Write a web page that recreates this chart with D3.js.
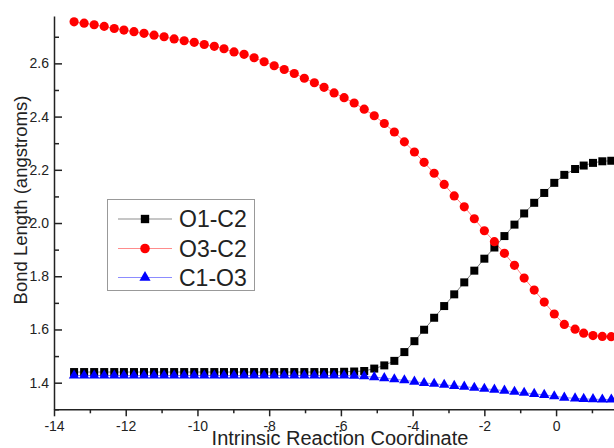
<!DOCTYPE html>
<html>
<head>
<meta charset="utf-8">
<script src="https://cdn.jsdelivr.net/npm/d3@7"></script>
<style>
  body { margin: 0; background: #fff; }
  svg { display: block; font-family: "Liberation Sans", Arial, sans-serif; }
</style>
</head>
<body>
<div id="chart"></div>
<script>
"use strict";

// IRC coordinate of each point
var irc = [-13.44, -13.16, -12.88, -12.60, -12.32, -12.05, -11.77, -11.49, -11.21, -10.93,
           -10.65, -10.37, -10.09, -9.81, -9.53, -9.26, -8.98, -8.70, -8.42, -8.14,
           -7.86, -7.58, -7.30, -7.02, -6.74, -6.47, -6.19, -5.91, -5.63, -5.35,
           -5.07, -4.79, -4.51, -4.23, -3.95, -3.68, -3.40, -3.12, -2.84, -2.56,
           -2.28, -2.00, -1.72, -1.44, -1.16, -0.89, -0.61, -0.33, -0.05, 0.23,
           0.53, 0.77, 1.03, 1.29, 1.54];

var o1c2 = [1.440, 1.440, 1.440, 1.440, 1.440, 1.440, 1.440, 1.440, 1.440, 1.440,
            1.440, 1.440, 1.440, 1.440, 1.440, 1.440, 1.440, 1.440, 1.440, 1.440,
            1.440, 1.440, 1.440, 1.440, 1.440, 1.440, 1.440, 1.441, 1.442, 1.444,
            1.453, 1.465, 1.482, 1.515, 1.556, 1.599, 1.644, 1.688, 1.732, 1.777,
            1.821, 1.866, 1.908, 1.951, 1.994, 2.036, 2.076, 2.113, 2.151, 2.181,
            2.203, 2.216, 2.226, 2.232, 2.234];

var o3c2 = [2.756, 2.751, 2.745, 2.739, 2.731, 2.725, 2.719, 2.713, 2.706, 2.700,
            2.692, 2.685, 2.679, 2.671, 2.664, 2.655, 2.643, 2.634, 2.621, 2.606,
            2.591, 2.577, 2.562, 2.544, 2.527, 2.510, 2.489, 2.471, 2.451, 2.428,
            2.403, 2.374, 2.342, 2.305, 2.267, 2.228, 2.187, 2.145, 2.102, 2.061,
            2.016, 1.971, 1.930, 1.886, 1.841, 1.793, 1.748, 1.703, 1.658, 1.619,
            1.601, 1.586, 1.577, 1.574, 1.573];

var c1o3 = [1.427, 1.427, 1.427, 1.427, 1.427, 1.427, 1.427, 1.427, 1.427, 1.427,
            1.427, 1.427, 1.427, 1.427, 1.427, 1.427, 1.427, 1.427, 1.427, 1.427,
            1.427, 1.427, 1.427, 1.427, 1.427, 1.427, 1.427, 1.427, 1.426, 1.424,
            1.421, 1.417, 1.413, 1.409, 1.404, 1.399, 1.396, 1.392, 1.388, 1.385,
            1.381, 1.377, 1.374, 1.370, 1.366, 1.362, 1.358, 1.354, 1.349, 1.344,
            1.341, 1.339, 1.338, 1.337, 1.337];

var seriesNames = ["O1-C2", "O3-C2", "C1-O3"];
var seriesColors = ["#000000", "#ff0000", "#0000ff"];
var xTicks = [-14, -12, -10, -8, -6, -4, -2, 0];
var yTicks = [1.4, 1.6, 1.8, 2.0, 2.2, 2.4, 2.6];

var width = 614, height = 448;

var svg = d3.select("#chart")
            .append("svg")
            .attr("width", width)
            .attr("height", height);

var x = d3.scaleLinear().domain([-14, 2]).range([54, 627.8]);
var y = d3.scaleLinear().domain([1.3, 2.778]).range([409.3, 16]);

// == AXES ==
svg.append("g")
   .attr("transform", "translate(0," + y(1.3) + ")")
   .call(d3.axisBottom(x).tickValues(xTicks).tickSize(7).tickSizeOuter(0)
           .tickPadding(5).tickFormat(function (d) { return String(d); }));
svg.append("g")
   .attr("transform", "translate(0," + y(1.3) + ")")
   .call(d3.axisBottom(x).tickValues(d3.range(-13, 3, 2)).tickSize(4).tickFormat(""))
   .select(".domain").remove();

svg.append("g")
   .attr("transform", "translate(" + x(-14) + ",0)")
   .call(d3.axisLeft(y).tickValues(yTicks).tickSize(-8).tickSizeOuter(0)
           .tickPadding(5).tickFormat(d3.format(".1f")));
svg.append("g")
   .attr("transform", "translate(" + x(-14) + ",0)")
   .call(d3.axisLeft(y).tickValues([1.3, 1.5, 1.7, 1.9, 2.1, 2.3, 2.5, 2.7]).tickSize(-5).tickFormat(""))
   .select(".domain").remove();

svg.selectAll(".domain, .tick line").attr("stroke", "#222").attr("stroke-width", 1.5);
svg.selectAll(".tick text").attr("fill", "#222").style("font-size", "14px")
   .style("font-family", "'Liberation Sans', Arial, sans-serif");

// axis titles
svg.append("text")
   .attr("x", 340).attr("y", 445)
   .attr("text-anchor", "middle")
   .style("font-size", "20px").attr("fill", "#222")
   .text("Intrinsic Reaction Coordinate");

svg.append("text")
   .attr("transform", "translate(27,200) rotate(-90)")
   .attr("text-anchor", "middle")
   .style("font-size", "18.5px").attr("fill", "#222")
   .text("Bond Length (angstroms)");

// == SERIES ==
var allSeries = [o1c2, o3c2, c1o3];
var symbols = [d3.symbolSquare, d3.symbolCircle, d3.symbolTriangle];
var sizes = [64, 66, 48];

var line = d3.line()
             .x(function (d) { return x(d[0]); })
             .y(function (d) { return y(d[1]); });

allSeries.forEach(function (vals, k) {
  var pts = irc.map(function (t, i) { return [t, vals[i]]; });
  var g = svg.append("g");
  g.append("path")
   .attr("d", line(pts))
   .attr("fill", "none")
   .attr("stroke", seriesColors[k])
   .attr("stroke-opacity", 0.5)
   .attr("stroke-width", 1);
  g.selectAll("path.pt")
   .data(pts)
   .enter()
   .append("path")
   .attr("class", "pt")
   .attr("transform", function (d) { return "translate(" + x(d[0]) + "," + y(d[1]) + ")"; })
   .attr("d", d3.symbol().type(symbols[k]).size(sizes[k]))
   .attr("fill", seriesColors[k]);
});

// == LEGEND ==
var legend = svg.append("g");
legend.append("rect")
      .attr("x", 107.5).attr("y", 199.5)
      .attr("width", 147).attr("height", 91)
      .attr("fill", "#fff")
      .attr("stroke", "#999");

var rowY = [219, 248.5, 277.5];
seriesNames.forEach(function (name, k) {
  legend.append("line")
        .attr("x1", 118).attr("x2", 172)
        .attr("y1", rowY[k]).attr("y2", rowY[k])
        .attr("stroke", seriesColors[k])
        .attr("stroke-opacity", 0.45);
  legend.append("path")
        .attr("transform", "translate(145," + rowY[k] + ")")
        .attr("d", d3.symbol().type(symbols[k]).size(sizes[k] + 6))
        .attr("fill", seriesColors[k]);
  legend.append("text")
        .attr("x", 179).attr("y", rowY[k] + 8)
        .style("font-size", "23px").attr("fill", "#222")
        .text(name);
});
</script>
</body>
</html>
